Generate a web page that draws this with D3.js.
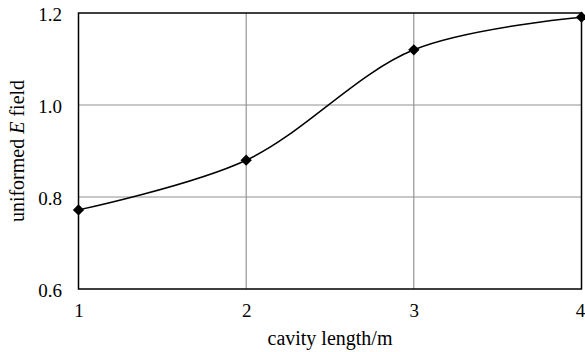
<!DOCTYPE html>
<html>
<head>
<meta charset="utf-8">
<script src="https://cdn.jsdelivr.net/npm/d3@7"></script>
<style>
body { margin: 0; background: #fff; }
text { font-family: "Liberation Serif", "Times New Roman", serif; fill: #000; }
</style>
</head>
<body>
<div id="chart"></div>
<script>
// data
const lengths = [1, 2, 3, 4];
const field = [0.772, 0.880, 1.120, 1.191];
const xTicks = [1, 2, 3, 4];
const yTicks = [0.6, 0.8, 1.0, 1.2];

const margin = { top: 13, right: 3.5, bottom: 63, left: 78.5 };
const width = 585 - margin.left - margin.right;
const height = 352 - margin.top - margin.bottom;

const svg = d3.select("#chart")
  .append("svg")
  .attr("width", 585)
  .attr("height", 352);

const g = svg.append("g")
  .attr("transform", "translate(" + margin.left + "," + margin.top + ")");

const x = d3.scaleLinear().domain([1, 4]).range([0, width]);
const y = d3.scaleLinear().domain([0.6, 1.2]).range([height, 0]);

// grid lines
g.selectAll(".vgrid")
  .data(xTicks.slice(1, -1))
  .enter()
  .append("line")
  .attr("x1", d => x(d)).attr("x2", d => x(d))
  .attr("y1", 0).attr("y2", height)
  .style("stroke", "#808080").style("stroke-width", 1);

g.selectAll(".hgrid")
  .data(yTicks.slice(1, -1))
  .enter()
  .append("line")
  .attr("x1", 0).attr("x2", width)
  .attr("y1", d => y(d)).attr("y2", d => y(d))
  .style("stroke", "#909090").style("stroke-width", 1);

// frame
g.append("rect")
  .attr("x", 0).attr("y", 0)
  .attr("width", width).attr("height", height)
  .style("fill", "none").style("stroke", "#000").style("stroke-width", 1.5);

// axes (labels only)
const xAxis = d3.axisBottom(x).tickValues(xTicks).tickFormat(d3.format("d")).tickSize(0).tickPadding(15);
const yAxis = d3.axisLeft(y).tickValues(yTicks).tickFormat(d3.format(".1f")).tickSize(0).tickPadding(16.5);

g.append("g")
  .attr("transform", "translate(0," + height + ")")
  .call(xAxis)
  .call(a => a.select(".domain").remove())
  .selectAll("text")
  .attr("dx", (d, i) => i === xTicks.length - 1 ? "-1.5" : null)
  .style("font-size", "19px")
  .style("font-family", "Liberation Serif");

g.append("g")
  .call(yAxis)
  .call(a => a.select(".domain").remove())
  .selectAll("text")
  .attr("dy", "0.4em")
  .style("font-size", "19px")
  .style("font-family", "Liberation Serif");

// curve
const pts = lengths.map((d, i) => [d, field[i]]);
const line = d3.line()
  .x(d => x(d[0]))
  .y(d => y(d[1]))
  .curve(d3.curveCatmullRom);

g.append("path")
  .datum(pts)
  .attr("d", line)
  .style("fill", "none")
  .style("stroke", "#000")
  .style("stroke-width", 1.5);

g.selectAll(".marker")
  .data(pts)
  .enter()
  .append("path")
  .attr("transform", d => "translate(" + x(d[0]) + "," + y(d[1]) + ") rotate(45)")
  .attr("d", d3.symbol().type(d3.symbolSquare).size(64))
  .style("fill", "#000");

// axis titles
svg.append("text")
  .attr("x", margin.left + width / 2)
  .attr("y", 345)
  .attr("text-anchor", "middle")
  .style("font-size", "20px")
  .text("cavity length/m");

const yl = svg.append("text")
  .attr("transform", "translate(24," + (margin.top + height / 2) + ") rotate(-90)")
  .attr("text-anchor", "middle")
  .style("font-size", "20px");
yl.append("tspan").text("uniformed ");
yl.append("tspan").style("font-style", "italic").text("E");
yl.append("tspan").text(" field");
</script>
</body>
</html>
